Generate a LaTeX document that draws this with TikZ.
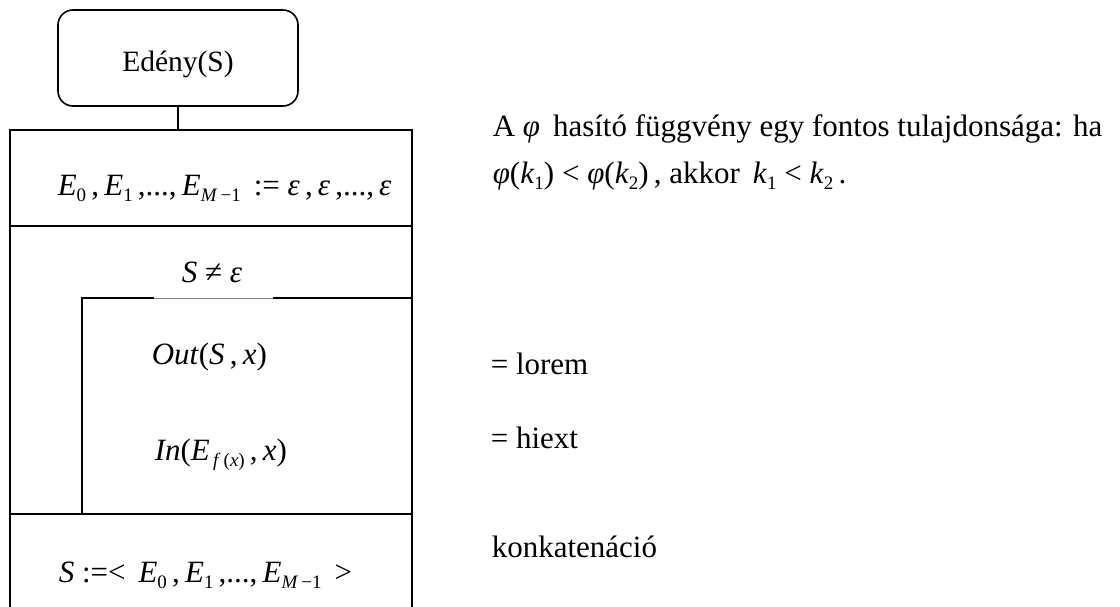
\documentclass[tikz,border=0pt]{standalone}
\usepackage{fontspec}
\setmainfont{Liberation Serif}
\newcommand\lo[1]{\raisebox{-0.45ex}{\fontsize{19}{19}\selectfont #1}}
\newcommand\vi[1]{\textit{#1}}
\begin{document}
\begin{tikzpicture}[x=1pt,y=-1pt,line width=1.6pt,
  txt/.style={inner sep=0pt,anchor=base west,font=\fontsize{31}{36}\selectfont},
  ctxt/.style={txt,anchor=base}]
\useasboundingbox (0,0) rectangle (1120,606);
% start box
\node[draw,rounded corners=15pt,minimum width=240pt,minimum height=96pt,inner sep=0pt] (head) at (178,58) {};
\node[ctxt,font=\fontsize{29.5}{34}\selectfont] (headtxt) at (178,71) {Edény(S)};
% structogram frame
\coordinate (tl) at (10,130);
\coordinate (tr) at (412,130);
\coordinate (bl) at (10,612);
\coordinate (br) at (412,612);
\coordinate (l1) at (10,226);
\coordinate (r1) at (412,226);
\coordinate (il) at (82,298);
\coordinate (g1) at (154,298);
\coordinate (g2) at (273,298);
\coordinate (ir) at (412,298);
\coordinate (ib) at (82,514);
\coordinate (l2) at (10,514);
\coordinate (r2) at (412,514);
\draw (head.south) -- (head.south |- tl);
\draw (bl) -- (tl) -- (tr) -- (br);
\draw (l1) -- (r1);
\draw (ib) -- (il) -- (g1);
\draw[gray,line width=0.8pt] (g1) -- (g2);
\draw (g2) -- (ir);
\draw (l2) -- (r2);
% cell texts
\node[txt] (init) at (57,195) {\vi{E}\lo{0}\,,\,\vi{E}\lo{1}\,,...,\,\vi{E}\lo{\vi{M}\,−1}\, := \vi{ε}\,,\,\vi{ε}\,,...,\,\vi{ε}};
\node[ctxt] (cond) at (212,282) {\vi{S} ≠ \vi{ε}};
\node[txt] (out) at (151,364) {\vi{Out}(\vi{S}\,,\,\vi{x})};
\node[txt] (in) at (154,460) {\vi{In}(\vi{E}\lo{\,\vi{f}\,(\vi{x})}\,,\,\vi{x})};
\node[txt] (concat) at (58,582) {\vi{S} :=<\, \vi{E}\lo{0}\,,\,\vi{E}\lo{1}\,,...,\,\vi{E}\lo{\vi{M}\,−1}\, >};
% side notes
\node[txt] (note1) at (492,136) {A \vi{φ}\, hasító függvény egy fontos tulajdonsága: ha};
\node[txt] (note2) at (492,183) {\vi{φ}(\vi{k}\lo{1}) < \vi{φ}(\vi{k}\lo{2})\,, akkor\, \vi{k}\lo{1} < \vi{k}\lo{2}\,.};
\node[txt] (lorem) at (490,374) {= lorem};
\node[txt] (hiext) at (490,448) {= hiext};
\node[txt] (konk) at (491,557) {konkatenáció};
\end{tikzpicture}
\end{document}
